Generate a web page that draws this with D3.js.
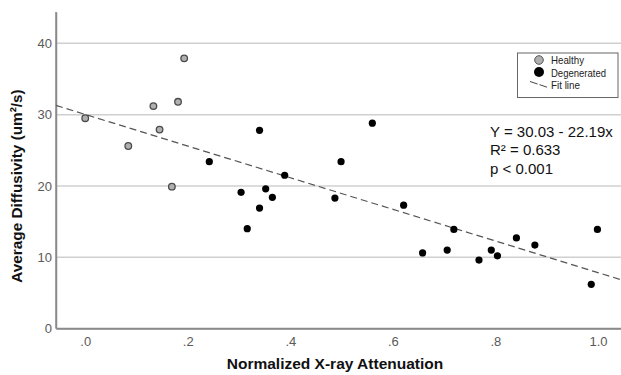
<!DOCTYPE html>
<html><head><meta charset="utf-8">
<script src="https://cdn.jsdelivr.net/npm/d3@7"></script>
<style>body{margin:0;background:#fff}svg{display:block}</style>
</head><body>
<svg id="c" width="621" height="375"></svg>
<script>
const healthyX = [0.000, 0.084, 0.133, 0.145, 0.181, 0.193, 0.169];
const healthyY = [29.5, 25.6, 31.2, 27.9, 31.8, 37.9, 19.9];
const degenX = [0.242, 0.340, 0.389, 0.304, 0.352, 0.365, 0.340, 0.316, 0.560, 0.499, 0.487, 0.621, 0.658, 0.706, 0.719, 0.768, 0.792, 0.804, 0.841, 0.877, 0.987, 0.999];
const degenY = [23.4, 27.8, 21.5, 19.1, 19.6, 18.4, 16.9, 14.0, 28.8, 23.4, 18.3, 17.3, 10.6, 11.0, 13.9, 9.6, 11.0, 10.2, 12.7, 11.7, 6.2, 13.9];
const xTicks = [0, 0.2, 0.4, 0.6, 0.8, 1.0];
const xTickLabels = [".0", ".2", ".4", ".6", ".8", "1.0"];
const yTicks = [0, 10, 20, 30, 40];
const fitIntercept = 30.03, fitSlope = -22.19;
const annotation = ["Y = 30.03 - 22.19x", "R² = 0.633", "p < 0.001"];
const legendLabels = ["Healthy", "Degenerated", "Fit line"];

const svg = d3.select("#c");
const L = 56, R = 621, T = 12, B = 328.5;
const x = d3.scaleLinear().domain([-0.057, 1.045]).range([L, R]);
const y = d3.scaleLinear().domain([0, 44.4]).range([B, T]);

// gridlines
svg.append("g").selectAll("line").data(yTicks.filter(d => d > 0)).join("line")
  .attr("x1", L).attr("x2", R).attr("y1", d => y(d)).attr("y2", d => y(d))
  .attr("stroke", "#d0d0d0").attr("stroke-width", 1.5);

// axes
const yAxis = svg.append("g").attr("transform", `translate(${L},0)`)
  .call(d3.axisLeft(y).tickValues(yTicks).tickSize(0).tickPadding(4));
const xAxis = svg.append("g").attr("transform", `translate(0,${B})`)
  .call(d3.axisBottom(x).tickValues(xTicks).tickFormat((d, i) => xTickLabels[i]).tickSize(0).tickPadding(8));
[yAxis, xAxis].forEach(g => {
  g.select(".domain").attr("stroke", "#8a8a8a").attr("stroke-width", 1.5);
  g.selectAll("text").attr("font-family", "Arial, Liberation Sans, sans-serif").attr("font-size", 13).attr("fill", "#5a5a5a");
});
svg.append("line").attr("x1", L).attr("x2", L).attr("y1", T).attr("y2", B).attr("stroke", "#8a8a8a").attr("stroke-width", 1.5);
svg.append("line").attr("x1", L).attr("x2", R).attr("y1", B).attr("y2", B).attr("stroke", "#8a8a8a").attr("stroke-width", 1.5);

// fit line
const xd = x.domain();
svg.append("line")
  .attr("x1", x(xd[0])).attr("y1", y(fitIntercept + fitSlope * xd[0]))
  .attr("x2", x(xd[1])).attr("y2", y(fitIntercept + fitSlope * xd[1]))
  .attr("stroke", "#555").attr("stroke-width", 1.2).attr("stroke-dasharray", "7,4");

// points
svg.append("g").selectAll("circle").data(healthyX.map((v, i) => [v, healthyY[i]])).join("circle")
  .attr("cx", d => x(d[0])).attr("cy", d => y(d[1])).attr("r", 3.3)
  .attr("fill", "#b0b0b0").attr("stroke", "#4a4a4a").attr("stroke-width", 1.3);
svg.append("g").selectAll("circle").data(degenX.map((v, i) => [v, degenY[i]])).join("circle")
  .attr("cx", d => x(d[0])).attr("cy", d => y(d[1])).attr("r", 3.6)
  .attr("fill", "#000");

// annotation
svg.append("g").selectAll("text").data(annotation).join("text")
  .attr("x", 490).attr("y", (d, i) => 137 + i * 18.3)
  .attr("font-family", "Arial, Liberation Sans, sans-serif").attr("font-size", 15).attr("fill", "#111")
  .text(d => d);

// legend
const lg = svg.append("g");
lg.append("rect").attr("x", 517.5).attr("y", 53).attr("width", 100.5).attr("height", 44.5)
  .attr("fill", "#fff").attr("stroke", "#666").attr("stroke-width", 1);
lg.append("circle").attr("cx", 539).attr("cy", 60).attr("r", 4.3).attr("fill", "#b0b0b0").attr("stroke", "#555").attr("stroke-width", 1);
lg.append("circle").attr("cx", 539).attr("cy", 72).attr("r", 5).attr("fill", "#000");
lg.append("line").attr("x1", 530).attr("y1", 81.5).attr("x2", 548).attr("y2", 87.5)
  .attr("stroke", "#444").attr("stroke-width", 1).attr("stroke-dasharray", "8,2");
lg.selectAll("text.l").data(legendLabels).join("text").attr("class", "l")
  .attr("x", 551).attr("y", (d, i) => 64 + i * 12.5)
  .attr("font-family", "Arial, Liberation Sans, sans-serif").attr("font-size", 10.5).attr("fill", "#222")
  .attr("textLength", (d, i) => [33, 55, 29][i]).attr("lengthAdjust", "spacingAndGlyphs")
  .text(d => d);

// axis titles
svg.append("text").attr("x", 335).attr("y", 369).attr("text-anchor", "middle")
  .attr("font-family", "Arial, Liberation Sans, sans-serif").attr("font-weight", "bold").attr("font-size", 15.5).attr("fill", "#111")
  .text("Normalized X-ray Attenuation");
svg.append("text").attr("transform", "translate(22,186) rotate(-90)").attr("text-anchor", "middle")
  .attr("font-family", "Arial, Liberation Sans, sans-serif").attr("font-weight", "bold").attr("font-size", 15.3).attr("fill", "#111")
  .text("Average Diffusivity (um²/s)");
</script>
</body></html>
